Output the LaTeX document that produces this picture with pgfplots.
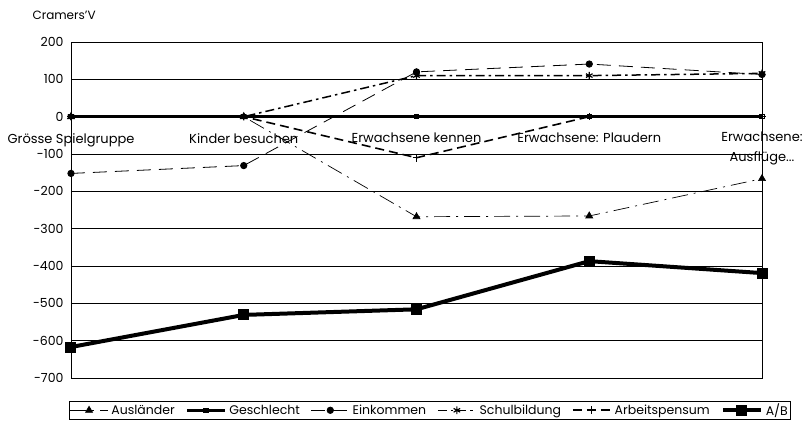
\documentclass[border=0pt]{standalone}
\usepackage{fontspec}
\setmainfont{Poppins}
\usepackage{pgfplots}
\pgfplotsset{compat=1.18}
\begin{document}
\begin{tikzpicture}[x=1pt,y=1pt]
\begin{axis}[
  at={(0,0)}, anchor=south west,
  scale only axis, width=691pt, height=336pt,
  xmin=0, xmax=4, ymin=-700, ymax=200,
  xtick={0,1,2,3,4}, xticklabels={}, major tick length=0pt,
  ytick={-700,-600,...,200},
  ymajorgrids, grid style={black, line width=0.6pt},
  axis line style={black, line width=0.9pt},
  yticklabel style={font=\fontsize{12.5}{14}\selectfont, xshift=-4pt},
  /pgf/number format/assume math mode=true,
  clip=false,
  legend columns=-1,
  legend style={at={(-0.003,-0.068)}, anchor=north west, draw=black, line width=0.6pt,
    font=\fontsize{12.5}{14}\selectfont, inner sep=0.5pt,
    /tikz/every odd column/.append style={column sep=1pt},
    /tikz/every even column/.append style={column sep=9pt}},
  legend image code/.code={\draw[#1] (0pt,0pt) -- (38pt,0pt); \path[#1, solid] plot coordinates {(19pt,0pt)};},
]
\addplot[black, line width=0.7pt, dash pattern=on 16pt off 6pt on 2pt off 6pt, mark=triangle*, mark size=4pt, mark options={solid}]
  coordinates {(0,0) (1,0) (2,-268) (3,-266) (4,-166)};
\addlegendentry{Ausländer}
\addplot[black, line width=2.6pt, mark=square, mark size=2.2pt, mark options={solid, fill=white, line width=1pt}]
  coordinates {(0,0) (1,0) (2,0) (3,0) (4,0)};
\addlegendentry{Geschlecht}
\addplot[black, line width=0.8pt, dash pattern=on 14pt off 8pt, mark=*, mark size=3.2pt, mark options={solid}]
  coordinates {(0,-152) (1,-131) (2,120) (3,141) (4,113)};
\addlegendentry{Einkommen}
\addplot[black, line width=1.5pt, dash pattern=on 9pt off 4pt on 2.5pt off 4pt, mark=asterisk, mark size=3.8pt, mark options={solid, line width=1.2pt}]
  coordinates {(0,0) (1,0) (2,110) (3,110) (4,116)};
\addlegendentry{Schulbildung}
\addplot[black, line width=1.6pt, dash pattern=on 9pt off 5pt, mark=+, mark size=3.8pt, mark options={solid, line width=1pt}]
  coordinates {(0,0) (1,0) (2,-110) (3,0) (4,0)};
\addlegendentry{Arbeitspensum}
\addplot[black, line width=4pt, mark=square*, mark size=3.5pt, mark options={solid}]
  coordinates {(0,-617) (1,-531) (2,-516) (3,-387) (4,-419)};
\addlegendentry{A/B}
\draw[black, line width=0.9pt] (rel axis cs:1,0) -- (rel axis cs:1,1);
\node[anchor=north, font=\fontsize{13}{14}\selectfont, yshift=-13pt] at (axis cs:0,0) {Grösse Spielgruppe};
\node[anchor=north, font=\fontsize{13}{14}\selectfont, yshift=-13pt] at (axis cs:1,0) {Kinder besuchen};
\node[anchor=north, font=\fontsize{13}{14}\selectfont, yshift=-13pt] at (axis cs:2,0) {Erwachsene kennen};
\node[anchor=north, font=\fontsize{13}{14}\selectfont, yshift=-13pt] at (axis cs:3,0) {Erwachsene: Plaudern};
\node[anchor=north, font=\fontsize{13}{20}\selectfont, yshift=-15pt, align=center, inner sep=0pt] at (axis cs:4,0) {Erwachsene:\\Ausflüge...};
\end{axis}
\node[anchor=west, font=\fontsize{12}{14}\selectfont] at (-42pt,363pt) {Cramers'V};
\path[use as bounding box] (-71pt,-46pt) rectangle (737pt,378pt);
\end{tikzpicture}
\end{document}
